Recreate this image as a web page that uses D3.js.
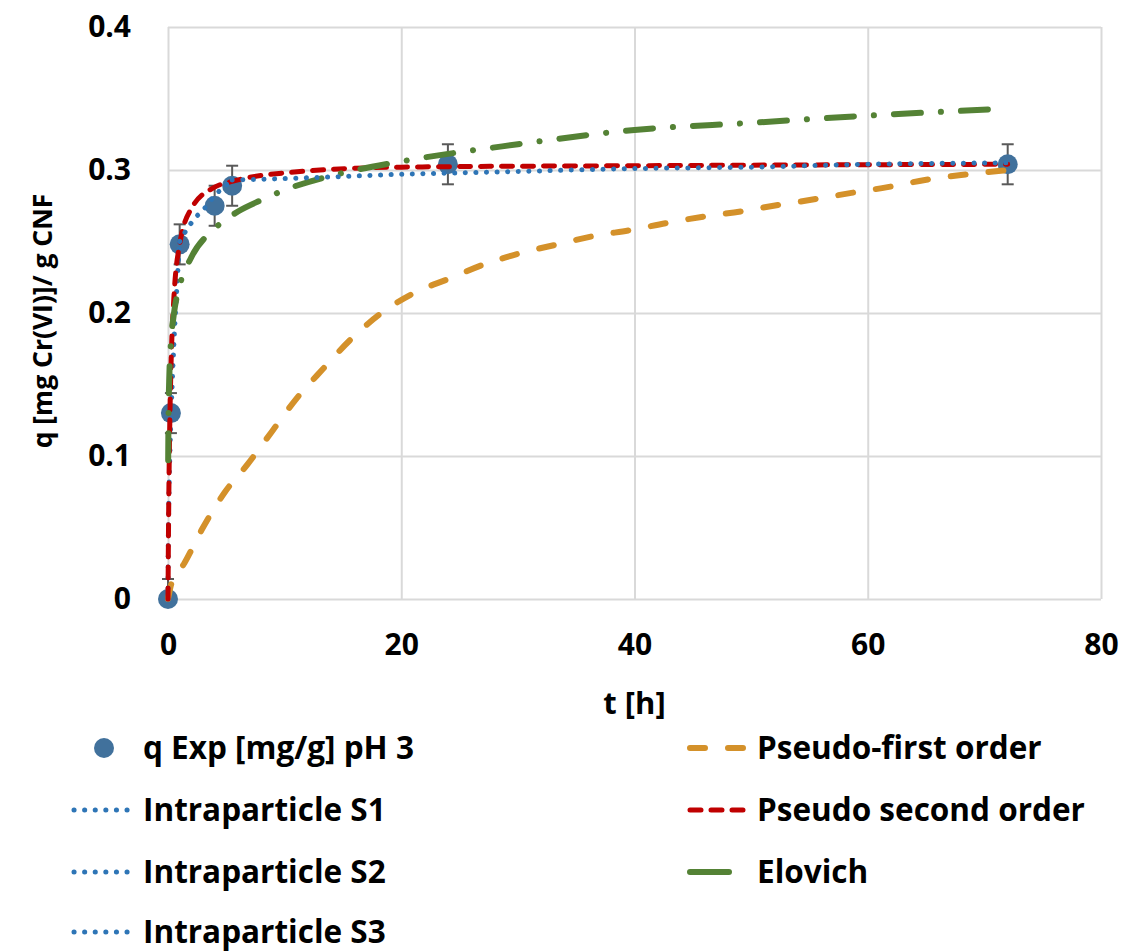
<!DOCTYPE html>
<html>
<head>
<meta charset="utf-8">
<script src="https://cdn.jsdelivr.net/npm/d3@7"></script>
<style>
  body { margin: 0; background: #fff; }
  text { font-family: "Open Sans", Lato, sans-serif; font-weight: bold; fill: #000; }
</style>
</head>
<body>
<svg id="chart"></svg>
<script>
// experimental points
const tExp = [0, 0.25, 1, 4, 5.5, 24, 72];
const qExp = [0, 0.13, 0.248, 0.275, 0.289, 0.304, 0.304];
const qErr = [0.014, 0.014, 0.014, 0.014, 0.014, 0.014, 0.014];

// pseudo-first order fit
const tPFO = [0, 0.3, 1.4, 3, 4.9, 6.8, 8.9, 11, 13.3, 15.6, 18.3, 21.1, 24.1, 27.1, 30.3, 33.4, 36.6, 39.7, 42.8, 46, 49.1, 52.3, 55.4, 58.6, 61.7, 64.9, 68, 72];
const qPFO = [0, 0.011, 0.025, 0.05, 0.075, 0.094, 0.117, 0.14, 0.161, 0.181, 0.2, 0.214, 0.224, 0.234, 0.242, 0.248, 0.254, 0.258, 0.263, 0.2675, 0.271, 0.2755, 0.2795, 0.284, 0.288, 0.293, 0.2965, 0.3];

// pseudo second order fit
const tPSO = [0, 0.05, 0.1, 0.2, 0.3, 0.5, 1, 2, 4, 5.5, 10, 20, 40, 72];
const qPSO = [0, 0.055, 0.093, 0.143, 0.175, 0.21, 0.248, 0.273, 0.288, 0.292, 0.298, 0.302, 0.303, 0.304];

// Elovich fit
const tElo = [0.015, 0.05, 0.1, 0.25, 0.5, 1, 2, 4, 6, 8, 10, 15, 20, 30, 40, 50, 60, 72];
const qElo = [0.097, 0.132, 0.152, 0.179, 0.199, 0.219, 0.239, 0.259, 0.271, 0.279, 0.286, 0.298, 0.306, 0.318, 0.328, 0.333, 0.338, 0.343];

// intraparticle diffusion stages
const tS1 = [0, 0.02, 0.05, 0.1, 0.2, 0.3, 0.5, 0.7, 1];
const qS1 = [0, 0.035, 0.056, 0.079, 0.112, 0.137, 0.177, 0.209, 0.25];
const tS2 = [1, 1.5, 2, 2.5, 3, 4, 5.5];
const qS2 = [0.25, 0.257, 0.263, 0.268, 0.272, 0.282, 0.293];
const tS3 = [5.5, 10, 20, 30, 40, 50, 60, 72];
const qS3 = [0.293, 0.294, 0.297, 0.299, 0.301, 0.302, 0.304, 0.305];

const xTicks = [0, 20, 40, 60, 80];
const yTicks = [0, 0.1, 0.2, 0.3, 0.4];

const width = 1128, height = 952;
const margin = { top: 27, right: 27, bottom: 353, left: 168 };

const svg = d3.select("#chart").attr("width", width).attr("height", height);

const x = d3.scaleLinear().domain([0, 80]).range([margin.left, width - margin.right]);
const y = d3.scaleLinear().domain([0, 0.4]).range([height - margin.bottom, margin.top]);

const grid = "#d9d9d9";

// gridlines
svg.append("g")
  .attr("transform", `translate(0,${y(0)})`)
  .call(d3.axisBottom(x).tickValues(xTicks).tickSize(-(y(0) - y(0.4))).tickFormat(""))
  .call(g => g.select(".domain").remove())
  .call(g => g.selectAll("line").attr("stroke", grid).attr("stroke-width", 2));

svg.append("g")
  .attr("transform", `translate(${x(0)},0)`)
  .call(d3.axisLeft(y).tickValues(yTicks).tickSize(-(x(80) - x(0))).tickFormat(""))
  .call(g => g.select(".domain").remove())
  .call(g => g.selectAll("line").attr("stroke", grid).attr("stroke-width", 2));

// tick labels
svg.append("g")
  .attr("transform", `translate(0,${y(0)})`)
  .call(d3.axisBottom(x).tickValues(xTicks).tickSize(0).tickPadding(35).tickFormat(d3.format("d")))
  .call(g => g.select(".domain").remove())
  .call(g => g.selectAll("text").style("font-size", "30px"));

svg.append("g")
  .attr("transform", `translate(${x(0)},0)`)
  .call(d3.axisLeft(y).tickValues(yTicks).tickSize(0).tickPadding(37).tickFormat(d => d === 0 ? "0" : d3.format(".1f")(d)))
  .call(g => g.select(".domain").remove())
  .call(g => g.selectAll("text").style("font-size", "30px"));

// axis titles
svg.append("text")
  .attr("x", x(40)).attr("y", 714)
  .attr("text-anchor", "middle")
  .style("font-size", "31px")
  .text("t [h]");

svg.append("text")
  .attr("transform", `translate(52,321) rotate(-90)`)
  .attr("text-anchor", "middle")
  .style("font-size", "26.5px")
  .text("q [mg Cr(VI)]/ g CNF");

const zip = (ts, qs) => ts.map((t, i) => [t, qs[i]]);
const line = d3.line().x(d => x(d[0])).y(d => y(d[1])).curve(d3.curveMonotoneX);

const styles = {
  exp: { color: "#41719c" },
  pfo: { color: "#d4912a", width: 6, dash: "15,23" },
  pso: { color: "#c00000", width: 5, dash: "11,10" },
  elo: { color: "#548235", width: 6, dash: "27,20,0.1,20" },
  ip: { color: "#2e75b6", width: 5, dash: "0.1,10.5" }
};

const drawLine = (data, s) => svg.append("path")
  .attr("d", line(data))
  .attr("fill", "none")
  .attr("stroke", s.color)
  .attr("stroke-width", s.width)
  .attr("stroke-dasharray", s.dash)
  .attr("stroke-linecap", "round");

// experimental series with error bars
const expData = tExp.map((t, i) => ({ t, q: qExp[i], e: qErr[i] }));
const eb = svg.append("g").attr("stroke", "#595959").attr("stroke-width", 2);
expData.forEach(d => {
  const lo = Math.max(0, d.q - d.e), hi = d.q + d.e;
  eb.append("line").attr("x1", x(d.t)).attr("x2", x(d.t)).attr("y1", y(lo)).attr("y2", y(hi));
  eb.append("line").attr("x1", x(d.t) - 6).attr("x2", x(d.t) + 6).attr("y1", y(hi)).attr("y2", y(hi));
  if (d.q - d.e >= 0)
    eb.append("line").attr("x1", x(d.t) - 6).attr("x2", x(d.t) + 6).attr("y1", y(lo)).attr("y2", y(lo));
});
svg.append("g").selectAll("circle")
  .data(expData)
  .enter()
  .append("circle")
  .attr("cx", d => x(d.t))
  .attr("cy", d => y(d.q))
  .attr("r", 10)
  .attr("fill", styles.exp.color);

// fitted curves, in series order
drawLine(zip(tPFO, qPFO), styles.pfo);
drawLine(zip(tS1, qS1), styles.ip);
drawLine(zip(tPSO, qPSO), styles.pso);
drawLine(zip(tS2, qS2), styles.ip);
drawLine(zip(tElo, qElo), styles.elo);
drawLine(zip(tS3, qS3), styles.ip);

// legend
const legendLeft = [
  { label: "q Exp [mg/g] pH 3", key: "exp" },
  { label: "Intraparticle S1", key: "ip" },
  { label: "Intraparticle S2", key: "ip" },
  { label: "Intraparticle S3", key: "ip" }
];
const legendRight = [
  { label: "Pseudo-first order", key: "pfo" },
  { label: "Pseudo second order", key: "pso" },
  { label: "Elovich", key: "elo", solid: true }
];
const rowY = [748, 810, 872, 932];

const legendCol = (items, x0, x1, tx) => items.forEach((it, i) => {
  const s = styles[it.key];
  const g = svg.append("g").attr("transform", `translate(0,${rowY[i]})`);
  if (it.key === "exp") {
    g.append("circle").attr("cx", (x0 + x1) / 2).attr("cy", 0).attr("r", 10).attr("fill", s.color);
  } else {
    g.append("line")
      .attr("x1", x0).attr("x2", it.solid ? x1 - 17 : x1)
      .attr("y1", 0).attr("y2", 0)
      .attr("stroke", s.color)
      .attr("stroke-width", s.width)
      .attr("stroke-dasharray", it.solid ? null : s.dash)
      .attr("stroke-linecap", "round");
  }
  g.append("text").attr("x", tx).attr("y", 11).style("font-size", "31.5px").text(it.label);
});
legendCol(legendLeft, 74, 134, 143);
legendCol(legendRight, 690, 746, 757);
</script>
</body>
</html>
